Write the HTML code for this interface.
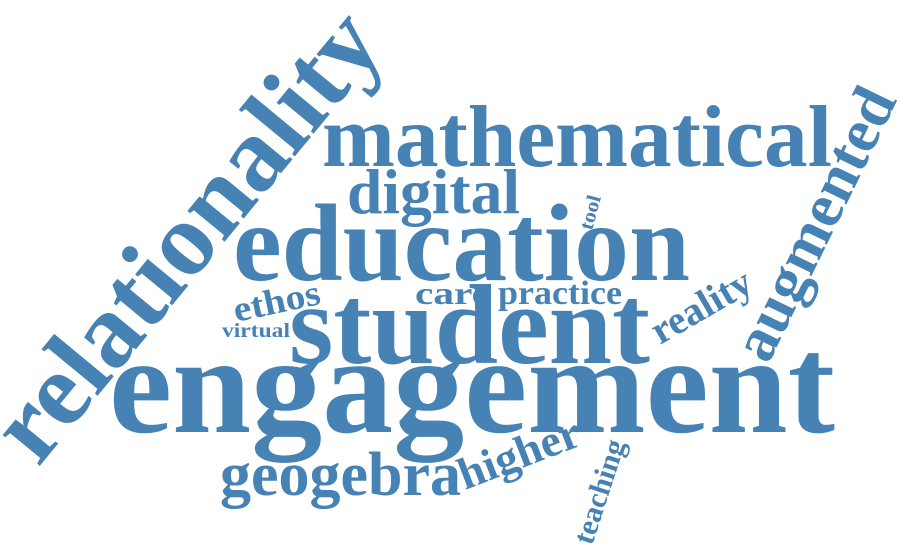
<!DOCTYPE html>
<html><head><meta charset="utf-8"><style>
html,body{margin:0;padding:0;background:#fff;width:900px;height:548px;overflow:hidden}
svg text{font-family:"Liberation Serif",serif;font-weight:bold;fill:#4682b4}
</style></head><body>
<svg width="900" height="548" viewBox="0 0 900 548">
<text x="109" y="432" font-size="140" textLength="726" lengthAdjust="spacingAndGlyphs">engagement</text>
<text x="289" y="363" font-size="113" textLength="361" lengthAdjust="spacingAndGlyphs">student</text>
<text x="233" y="280" font-size="110" textLength="457" lengthAdjust="spacingAndGlyphs">education</text>
<text x="322" y="166" font-size="88" textLength="510" lengthAdjust="spacingAndGlyphs">mathematical</text>
<text x="347" y="213" font-size="64" textLength="173" lengthAdjust="spacingAndGlyphs">digital</text>
<text x="220" y="495" font-size="62" textLength="241" lengthAdjust="spacingAndGlyphs">geogebra</text>
<text x="415" y="304" font-size="32" textLength="75" lengthAdjust="spacingAndGlyphs">care</text>
<text x="498" y="304" font-size="34" textLength="124" lengthAdjust="spacingAndGlyphs">practice</text>
<text x="222" y="337" font-size="20" textLength="68" lengthAdjust="spacingAndGlyphs">virtual</text>
<text transform="translate(236,322) rotate(-12)" font-size="36" textLength="88" lengthAdjust="spacingAndGlyphs">ethos</text>
<text transform="translate(38,468) rotate(-50.5)" font-size="105" textLength="548" lengthAdjust="spacingAndGlyphs">relationality</text>
<text transform="translate(768,365) rotate(-64)" font-size="62" textLength="295" lengthAdjust="spacingAndGlyphs">augmented</text>
<text transform="translate(660,345) rotate(-30)" font-size="40" textLength="110" lengthAdjust="spacingAndGlyphs">reality</text>
<text transform="translate(465,490) rotate(-21)" font-size="45" textLength="127" lengthAdjust="spacingAndGlyphs">higher</text>
<text transform="translate(592,546) rotate(-72)" font-size="30" textLength="108" lengthAdjust="spacingAndGlyphs">teaching</text>
<text transform="translate(592,231) rotate(-75)" font-size="20" textLength="35" lengthAdjust="spacingAndGlyphs">tool</text>
</svg>
</body></html>
